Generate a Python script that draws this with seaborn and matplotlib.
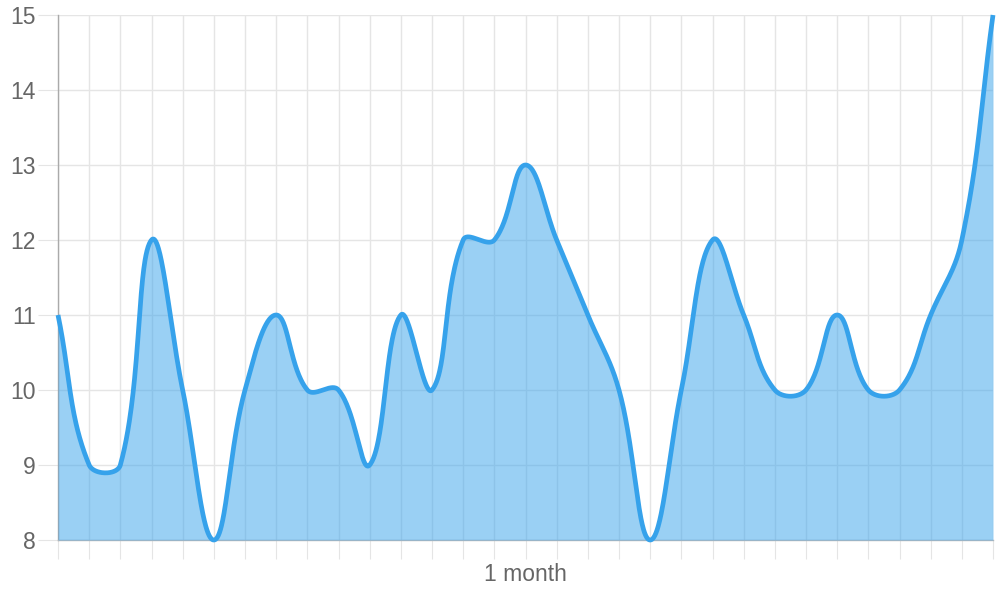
import numpy as np
import pandas as pd
import matplotlib
matplotlib.use("Agg")
import matplotlib.pyplot as plt
import seaborn as sns

# ---- data ----
values = [11, 9, 9, 12, 10, 8, 10, 11, 10, 10, 9, 11, 10, 12, 12, 13,
          12, 11, 10, 8, 10, 12, 11, 10, 10, 11, 10, 10, 11, 12, 15]
x_labels = [""] * 15 + ["1 month"] + [""] * 15
y_ticks = [8, 9, 10, 11, 12, 13, 14, 15]

LINE = "#36a2eb"
FILL = (54 / 255, 162 / 255, 235 / 255, 0.5)
GRID = "#e5e5e5"
TEXT = "#666666"

sns.set_style("white")
plt.rcParams["font.family"] = ["Liberation Sans", "DejaVu Sans"]

W, H = 1000, 600
fig = plt.figure(figsize=(W / 100, H / 100), dpi=100)
ax_l, ax_r, ax_t, ax_b = 58, 993, 15, 540
ax = fig.add_axes([ax_l / W, 1 - ax_b / H, (ax_r - ax_l) / W, (ax_b - ax_t) / H])

n = len(values)
ymin, ymax = y_ticks[0], y_ticks[-1]
sx = (ax_r - ax_l) / (n - 1)
sy = (ax_b - ax_t) / (ymax - ymin)

# Chart.js style spline (tension 0.4), computed in pixel space
px = np.arange(n) * sx
py = (np.array(values, dtype=float) - ymin) * sy
t = 0.4
prev_c = np.zeros((n, 2))
next_c = np.zeros((n, 2))
for i in range(n):
    p0 = np.array([px[max(i - 1, 0)], py[max(i - 1, 0)]])
    p1 = np.array([px[i], py[i]])
    p2 = np.array([px[min(i + 1, n - 1)], py[min(i + 1, n - 1)]])
    d01 = np.hypot(*(p1 - p0))
    d12 = np.hypot(*(p2 - p1))
    tot = d01 + d12
    s01 = d01 / tot if tot else 0
    s12 = d12 / tot if tot else 0
    prev_c[i] = p1 - t * s01 * (p2 - p0)
    next_c[i] = p1 + t * s12 * (p2 - p0)
# cap control points to chart area
for c in (prev_c, next_c):
    c[:, 0] = np.clip(c[:, 0], 0, px[-1])
    c[:, 1] = np.clip(c[:, 1], 0, (ymax - ymin) * sy)

xs, ys = [], []
tt = np.linspace(0, 1, 60)
for i in range(n - 1):
    P0 = np.array([px[i], py[i]])
    P1 = next_c[i]
    P2 = prev_c[i + 1]
    P3 = np.array([px[i + 1], py[i + 1]])
    seg = ((1 - tt) ** 3)[:, None] * P0 + (3 * (1 - tt) ** 2 * tt)[:, None] * P1 \
        + (3 * (1 - tt) * tt ** 2)[:, None] * P2 + (tt ** 3)[:, None] * P3
    if i > 0:
        seg = seg[1:]
    xs.extend(seg[:, 0] / sx)
    ys.extend(seg[:, 1] / sy + ymin)

curve = pd.DataFrame({"x": xs, "y": ys})

ax.fill_between(curve["x"], curve["y"], ymin, color=FILL, linewidth=0, zorder=2)
sns.lineplot(data=curve, x="x", y="y", sort=False, estimator=None, ax=ax,
             color=LINE, linewidth=3.4, zorder=3)
for l in ax.lines:
    l.set_solid_capstyle("butt")
    l.set_clip_on(False)

ax.set_xlim(0, n - 1)
ax.set_ylim(ymin, ymax)
ax.set_xticks(range(n))
ax.set_xticklabels(x_labels)
ax.set_yticks(y_ticks)
ax.set_yticklabels([str(v) for v in y_ticks])
ax.set_xlabel("")
ax.set_ylabel("")

ax.set_axisbelow(True)
ax.grid(True, color=GRID, linewidth=1.0, zorder=0)
ax.tick_params(axis="y", length=14.4, width=0.8, color=GRID, pad=1.5,
               labelsize=16.5, labelcolor=TEXT, left=True)
ax.tick_params(axis="x", length=13.5, width=0.8, color=GRID, pad=3,
               labelsize=16.5, labelcolor=TEXT, bottom=True)

for s in ("top", "right"):
    ax.spines[s].set_visible(False)
ax.spines["left"].set_color("#aaaaaa")
ax.spines["left"].set_linewidth(1.0)
ax.spines["bottom"].set_color("#bbbbbb")
ax.spines["bottom"].set_linewidth(1.0)
ax.spines["left"].set_zorder(1)
ax.spines["bottom"].set_zorder(1)

fig.savefig("out.png", dpi=100)
